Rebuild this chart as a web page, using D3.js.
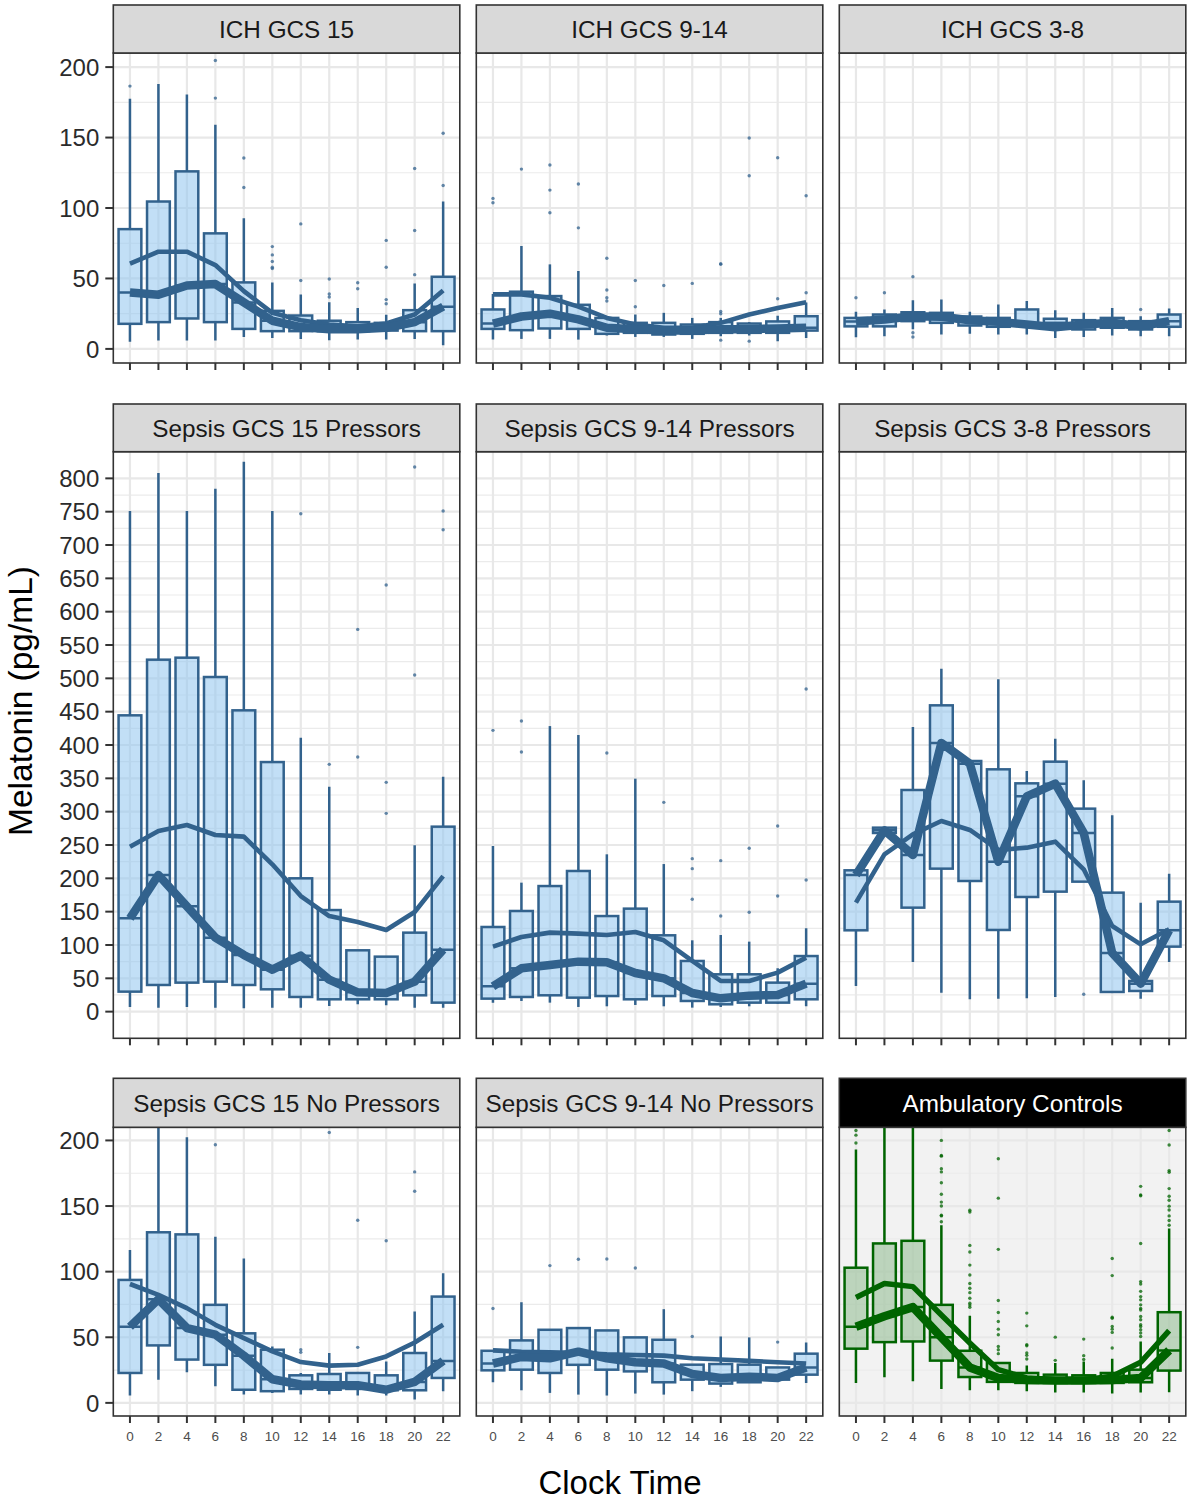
<!DOCTYPE html>
<html>
<head>
<meta charset="utf-8">
<script src="https://cdn.jsdelivr.net/npm/d3@7"></script>
<style>
  body { margin: 0; background: #ffffff; }
  text { font-family: "Liberation Sans", Arial, Helvetica, sans-serif; }
</style>
</head>
<body>
<svg id="chart" width="1193" height="1500"></svg>
<script>
// ---------------- DATA ----------------
const hours = [0, 2, 4, 6, 8, 10, 12, 14, 16, 18, 20, 22];
const xTickLabels = ["0", "2", "4", "6", "8", "10", "12", "14", "16", "18", "20", "22"];
const panelNames = [
  "ICH GCS 15", "ICH GCS 9-14", "ICH GCS 3-8",
  "Sepsis GCS 15 Pressors", "Sepsis GCS 9-14 Pressors", "Sepsis GCS 3-8 Pressors",
  "Sepsis GCS 15 No Pressors", "Sepsis GCS 9-14 No Pressors", "Ambulatory Controls"
];
const yTicksSmall = [0, 50, 100, 150, 200];
const yTicksLarge = [0, 50, 100, 150, 200, 250, 300, 350, 400, 450, 500, 550, 600, 650, 700, 750, 800];

// lower whisker end, one row per panel, one value per clock hour
const whiskerLow = [
  [5, 6, 6, 6, 8.5, 7.8, 7.1, 6.2, 6.6, 6.6, 7.1, 2.6],
  [6.6, 7.1, 7.1, 6.6, 9.5, 8.5, 8.5, 7.1, 9, 9.5, 5.5, 7.8],
  [8.3, 9, 14, 10.2, 10.7, 10.2, 10.2, 7.8, 8.5, 9.5, 9, 9],
  [7, 6, 7, 6, 5, 6, 6, 8.5, 11, 9.5, 6, 6],
  [13.5, 16, 13.5, 7, 8, 10, 8, 6, 7, 8, 12, 8],
  [38.5, 268, 74.5, 28.5, 18.5, 19.5, 20, 22, 195, 29.5, 19.5, 74.5],
  [5.6, 17.7, 23.3, 12.7, 6.3, 7.5, 6.3, 6.3, 5.6, 5.6, 2.5, 8.9],
  [15.7, 9.6, 7.6, 6.3, 5.6, 7.1, 6.3, 8.9, 12.2, 15.7, 17.7, 15.2],
  [15.2, 19.5, 16.5, 10.6, 9.6, 9.6, 8.9, 8, 8, 7.1, 8, 8.1]
];
const quartile1 = [
  [17.8, 19, 21.6, 19, 14.2, 12.6, 12.6, 12.6, 12.6, 13, 12.6, 12.6],
  [14.2, 13.3, 14.5, 14.2, 10.7, 11.4, 10.2, 10.7, 11.4, 11.4, 11.4, 13],
  [16, 16, 19.7, 18.5, 16.6, 15.7, 16.5, 18.5, 13.8, 15, 13.8, 15.7],
  [30, 40, 43.5, 45, 40, 33.5, 22, 18.5, 18.5, 18.5, 24.5, 13.5],
  [19.5, 22, 24.5, 21, 23.4, 18.5, 23.4, 16, 11, 13.5, 13.5, 18.5],
  [122, 268, 156, 214.5, 196, 122.5, 172, 180, 195, 29.5, 31, 97.5],
  [22.8, 43.8, 33, 29, 10, 8.9, 10.6, 10, 10.6, 9.6, 9.6, 19],
  [24.8, 25.3, 22.8, 29, 25.3, 24, 15.7, 17.7, 14.7, 15.7, 17.7, 21.5],
  [41.3, 46.3, 46.8, 32.2, 19.7, 16, 15.2, 15.2, 15.2, 15.2, 15.7, 24.6]
];
const medians = [
  [40, 38.5, 45, 46, 33, 20, 15.5, 14, 14, 15, 19, 30],
  [18, 23, 25, 21, 15, 14, 13, 13, 14, 14, 14.5, 15],
  [19.5, 20.9, 23.2, 22.8, 20.4, 19.2, 17.3, 15.4, 17.3, 18.5, 16.1, 19.7],
  [140, 205, 158, 111, 85, 63, 84, 48, 29, 28, 45, 93],
  [38, 65, 70, 75, 74, 58, 50, 28, 20, 24, 25, 42],
  [205, 272, 235, 403, 372, 225, 323, 342, 268, 88, 42, 122],
  [58, 79, 57, 52, 36, 18, 14, 13.5, 13.5, 10, 16, 32],
  [30, 35, 34, 39, 34, 31, 30, 22, 19, 20, 19, 27],
  [58, 66, 73, 50, 27, 19, 17.5, 17, 17, 17.5, 19, 40]
];
const quartile3 = [
  [85, 104.6, 126, 82, 47.2, 27, 23.7, 20, 19, 18.5, 27.5, 51.2],
  [28, 40.6, 37.5, 31.3, 22, 18.5, 18.5, 17.3, 19, 18, 19.5, 23.2],
  [22, 24.4, 26, 25.6, 23, 22, 28, 21.4, 20.4, 22, 19.7, 24.4],
  [444.5, 528, 531, 502, 452, 374.4, 200, 152.4, 92, 82.5, 118.5, 277.5],
  [127, 151, 188.4, 211, 143.4, 154.5, 114.5, 76, 56, 56, 43.5, 83.4],
  [212, 276, 332.5, 459.5, 376, 363.5, 342.5, 375, 304.5, 178.5, 46, 165],
  [93.7, 130, 128.4, 74.7, 53, 40.5, 21, 22, 22.8, 21, 38, 81],
  [39.7, 47.6, 55.7, 57, 55.2, 49.9, 48.1, 29.1, 29.6, 29.1, 27, 37.5],
  [103, 121.5, 123.5, 74.7, 39.7, 30.4, 22.8, 21.5, 21, 22.8, 25.3, 69.1]
];
const whiskerHigh = [
  [177.5, 188, 180.5, 159, 92.8, 47.2, 38.7, 33.2, 29, 24.2, 46.5, 104.6],
  [39, 73, 60, 55.3, 22, 24.4, 25.6, 22, 22, 19, 23.5, 33],
  [26.3, 28, 34.6, 35, 26.3, 31.5, 34, 27.5, 25.6, 29, 23.2, 28.7],
  [751, 808, 751, 784.5, 825, 751, 411, 337.5, 92, 82.5, 249.5, 352.5],
  [248.5, 193.5, 428.4, 415, 236, 349.5, 221.4, 107, 115, 105, 65, 125],
  [212, 276, 427, 514.5, 376, 498.5, 361, 409.5, 347, 294.5, 163.5, 207],
  [116.5, 230, 202.5, 126.6, 110, 43, 22.8, 38, 22.8, 31.6, 69.6, 98.7],
  [39.7, 76.7, 55.7, 57, 55.2, 49.9, 71.4, 29.1, 50.6, 49.9, 27, 46],
  [193, 260, 240, 135.4, 66.3, 30.4, 28.4, 30.4, 31.6, 33.7, 46.8, 132.9]
];
const means = [
  [60.5, 69, 69, 59.5, 41, 25.6, 20.4, 17.3, 16, 18, 24.4, 41.5],
  [38.7, 38.7, 36.3, 30, 22, 17.3, 15, 15, 18.5, 24.4, 29, 33.2],
  [20, 21.5, 23, 23, 21, 20, 18, 16, 17, 18, 17, 20],
  [247.5, 271, 280, 265, 262.5, 221, 173.4, 143.4, 134.4, 122.4, 149.4, 203.4],
  [97.5, 112, 118.5, 117, 115, 119.5, 107, 76, 46, 46, 58.5, 81],
  [163.5, 236, 266, 286, 272.5, 242.5, 246, 255, 213.5, 128.5, 101, 123.5],
  [90.6, 82.3, 72.2, 59.5, 49.4, 39.2, 31.1, 28.4, 29.1, 35.4, 46, 59.5],
  [40, 39, 38.5, 38, 37, 36.5, 36, 34, 33, 32, 31, 30],
  [80.3, 91, 88.6, 67, 45.6, 25.3, 19, 17.7, 17.7, 20.3, 30.9, 55]
];
const outliers = [
  [[186.5], [], [], [204.7, 178], [135.5, 114.6], [72.6, 66.7, 62, 58, 57], [88.7, 48.6], [49.6, 39, 36.8], [47, 42.7], [77, 58, 35, 32], [128, 84, 52.7], [153, 116]],
  [[106.8, 103.7], [127.6], [130.5, 112.7, 96.6], [117, 85.9], [64.3, 41.8, 36.3, 34], [48.6, 29.9], [45], [46.5], [60.5, 60, 26.6, 25, 6.2], [149.7, 122.9, 5.5], [135.7, 35.6], [108.7, 39.9]],
  [[36.3], [39.9], [51.2, 11.5, 8.5], [], [], [], [], [], [], [], [28], []],
  [[], [], [], [], [], [], [747], [371], [573.4, 382], [640, 344, 297.5], [817, 505], [751, 723]],
  [[422], [436, 389.4], [], [], [388], [], [314], [229.5, 214.5, 168.5], [226.5, 143.4], [245, 149], [278.4, 173.4], [484, 197.4]],
  [[], [], [], [], [], [], [], [], [26], [], [], []],
  [[], [], [], [196.7], [], [], [40.5, 38.5], [206], [139.2, 42.3], [123.5], [176, 161.3], []],
  [[71.9], [], [104.6], [109.4], [109.6], [102.8], [], [50.6], [], [], [46.3], []],
  [[198, 204, 207.6], [], [],
   [200, 188.6, 188, 178.5, 176, 167.8, 159, 153, 150, 143, 142.5, 138],
   [146.8, 145.5, 120, 115, 105, 97.5, 91, 87.3, 84, 79.7, 76, 74.5, 72.9],
   [186, 156, 117, 78, 68.9, 62, 56.2, 51.9, 43, 40.5, 37.5],
   [68.4, 58.7, 44.3, 43.5, 38, 36.2, 33.4],
   [50.1, 32.4],
   [48.6, 36, 33],
   [110, 97, 65.3, 64.5, 58.2, 56.2, 53.7, 41.8],
   [165, 158.5, 157.8, 121.5, 92.4, 90.6, 85, 81, 78.5, 74.7, 72, 70.8, 65.8, 63.3, 59.5, 58.2, 55.7, 53.2, 50.6],
   [207.6, 196.5, 177, 175.7, 163.3, 157.5, 154.4, 149.9, 147, 142.5, 139, 135.4]]
];

// ---------------- LAYOUT ----------------
const svg = d3.select("#chart");
const colX = [113.3, 476.3, 839.3];
const panelW = 346.5;
const rows = [
  { stripTop: 5, top: 53, bottom: 363, domain: [-10, 210], ticks: yTicksSmall },
  { stripTop: 404, top: 451.7, bottom: 1038.3, domain: [-40, 840], ticks: yTicksLarge },
  { stripTop: 1078.3, top: 1127.3, bottom: 1416, domain: [-10, 210], ticks: yTicksSmall }
];
const xDomain = [-1.17, 23.17];
const boxWidthHours = 1.6;

const blue = { stroke: "#32628d", fill: "#8fc4ef", fillOpacity: 0.55, bg: "#ffffff" };
const green = { stroke: "#006400", fill: "#8fbc8f", fillOpacity: 0.55, bg: "#f2f2f2" };

const defs = svg.append("defs");

panelNames.forEach((name, p) => {
  const r = Math.floor(p / 3), c = p % 3;
  const row = rows[r];
  const x0 = colX[c], x1 = x0 + panelW;
  const pal = p === 8 ? green : blue;
  const xs = d3.scaleLinear().domain(xDomain).range([x0, x1]);
  const ys = d3.scaleLinear().domain(row.domain).range([row.bottom, row.top]);
  const g = svg.append("g");

  // background
  g.append("rect").attr("x", x0).attr("y", row.top).attr("width", panelW)
    .attr("height", row.bottom - row.top).attr("fill", pal.bg);

  // minor horizontal grid
  const minor = [];
  for (let i = 0; i < row.ticks.length - 1; i++) minor.push((row.ticks[i] + row.ticks[i + 1]) / 2);
  g.selectAll(null).data(minor).join("line")
    .attr("x1", x0).attr("x2", x1).attr("y1", d => ys(d)).attr("y2", d => ys(d))
    .attr("stroke", "#ebebeb").attr("stroke-width", 1.2);
  // major grid
  g.selectAll(null).data(row.ticks).join("line")
    .attr("x1", x0).attr("x2", x1).attr("y1", d => ys(d)).attr("y2", d => ys(d))
    .attr("stroke", "#e8e8e8").attr("stroke-width", 2.2);
  g.selectAll(null).data(hours).join("line")
    .attr("x1", d => xs(d)).attr("x2", d => xs(d)).attr("y1", row.top).attr("y2", row.bottom)
    .attr("stroke", "#e8e8e8").attr("stroke-width", 2.2);

  // clip
  const cid = "clip" + p;
  defs.append("clipPath").attr("id", cid).append("rect")
    .attr("x", x0).attr("y", row.top).attr("width", panelW).attr("height", row.bottom - row.top);
  const pg = g.append("g").attr("clip-path", `url(#${cid})`);

  const halfW = (xs(boxWidthHours) - xs(0)) / 2;
  hours.forEach((h, i) => {
    const cx = xs(h);
    const lo = whiskerLow[p][i], q1 = quartile1[p][i], md = medians[p][i],
          q3 = quartile3[p][i], hi = whiskerHigh[p][i];
    pg.append("line").attr("x1", cx).attr("x2", cx).attr("y1", ys(q3)).attr("y2", ys(hi))
      .attr("stroke", pal.stroke).attr("stroke-width", 2.5);
    pg.append("line").attr("x1", cx).attr("x2", cx).attr("y1", ys(q1)).attr("y2", ys(lo))
      .attr("stroke", pal.stroke).attr("stroke-width", 2.5);
    pg.append("rect").attr("x", cx - halfW).attr("y", ys(q3)).attr("width", 2 * halfW)
      .attr("height", Math.max(0.5, ys(q1) - ys(q3)))
      .attr("fill", pal.fill).attr("fill-opacity", pal.fillOpacity)
      .attr("stroke", pal.stroke).attr("stroke-width", 2.5);
    pg.append("line").attr("x1", cx - halfW).attr("x2", cx + halfW).attr("y1", ys(md)).attr("y2", ys(md))
      .attr("stroke", pal.stroke).attr("stroke-width", 2.5);
    pg.selectAll(null).data(outliers[p][i]).join("circle")
      .attr("cx", cx).attr("cy", d => ys(d)).attr("r", 1.7)
      .attr("fill", pal.stroke).attr("fill-opacity", 0.75);
  });

  const lineGen = d3.line().x((d, i) => xs(hours[i])).y(d => ys(d));
  pg.append("path").attr("d", lineGen(means[p])).attr("fill", "none")
    .attr("stroke", pal.stroke).attr("stroke-width", p === 8 ? 5.5 : 4.6)
    .attr("stroke-linejoin", "round");
  pg.append("path").attr("d", lineGen(medians[p])).attr("fill", "none")
    .attr("stroke", pal.stroke).attr("stroke-width", 8.5)
    .attr("stroke-linejoin", "round");

  // border
  g.append("rect").attr("x", x0).attr("y", row.top).attr("width", panelW)
    .attr("height", row.bottom - row.top).attr("fill", "none")
    .attr("stroke", "#333333").attr("stroke-width", 1.6);

  // strip
  const dark = p === 8;
  g.append("rect").attr("x", x0).attr("y", row.stripTop).attr("width", panelW)
    .attr("height", row.top - row.stripTop)
    .attr("fill", dark ? "#000000" : "#d9d9d9")
    .attr("stroke", "#333333").attr("stroke-width", 1.6);
  g.append("text").attr("x", (x0 + x1) / 2).attr("y", (row.stripTop + row.top) / 2)
    .attr("dy", "0.36em").attr("text-anchor", "middle")
    .attr("font-size", "24.3px").attr("fill", dark ? "#ffffff" : "#1a1a1a").text(name);

  // x ticks
  g.selectAll(null).data(hours).join("line")
    .attr("x1", d => xs(d)).attr("x2", d => xs(d))
    .attr("y1", row.bottom).attr("y2", row.bottom + 7)
    .attr("stroke", "#333333").attr("stroke-width", 2);
  if (r === 2) {
    g.selectAll(null).data(hours).join("text")
      .attr("x", d => xs(d)).attr("y", row.bottom + 25)
      .attr("text-anchor", "middle").attr("font-size", "13.5px").attr("fill", "#4d4d4d")
      .text((d, i) => xTickLabels[i]);
  }
  // y axis
  if (c === 0) {
    g.selectAll(null).data(row.ticks).join("line")
      .attr("x1", x0 - 8).attr("x2", x0)
      .attr("y1", d => ys(d)).attr("y2", d => ys(d))
      .attr("stroke", "#333333").attr("stroke-width", 2);
    g.selectAll(null).data(row.ticks).join("text")
      .attr("x", x0 - 14).attr("y", d => ys(d)).attr("dy", "0.36em")
      .attr("text-anchor", "end").attr("font-size", "24px").attr("fill", "#2b2b2b")
      .text(d => d);
  }
});

// axis titles
svg.append("text").attr("x", 620).attr("y", 1494).attr("text-anchor", "middle")
  .attr("font-size", "33px").attr("fill", "#000").text("Clock Time");
svg.append("text").attr("transform", "translate(32,701) rotate(-90)")
  .attr("text-anchor", "middle").attr("font-size", "33.5px").attr("fill", "#000")
  .text("Melatonin (pg/mL)");
</script>
</body>
</html>
